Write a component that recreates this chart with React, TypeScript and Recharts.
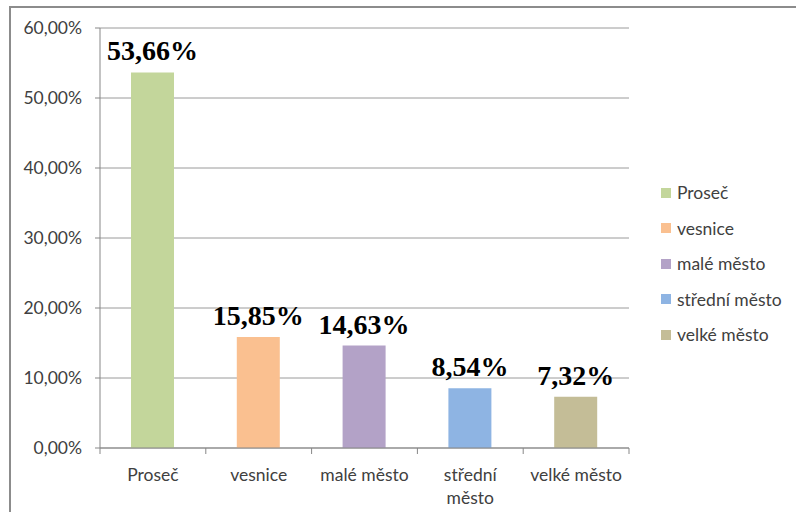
import React from 'react';
import { BarChart, Bar, XAxis, YAxis, CartesianGrid, Cell, LabelList } from 'recharts';

const categories = ['Proseč', 'vesnice', 'malé město', 'střední město', 'velké město'];
const values = [53.66, 15.85, 14.63, 8.54, 7.32];
const colors = ['#C3D69B', '#FAC090', '#B3A2C7', '#8EB4E3', '#C4BD97'];
const yTicks = [0, 10, 20, 30, 40, 50, 60];
const boundaryTicks = [0, 1, 2, 3, 4, 5];

const data = categories.map((name, i) => ({ name, value: values[i], pos: i + 0.5 }));

const fmtPct = (v: number) => v.toFixed(2).replace('.', ',') + '%';

const FONT = 'Lato, "Open Sans", sans-serif';
const TEXT_COLOR = '#404040';
const AXIS_COLOR = '#878787';
const FS = 17.5;
const MAX_CHARS = 12;

const XTick = (props: any) => {
  const { x, y, payload } = props;
  const label: string = String(payload.value);
  const lines = label.length > MAX_CHARS ? label.split(' ') : [label];
  return (
    <text x={x} y={y + 24} textAnchor="middle" fontSize={FS} fontFamily={FONT} fill={TEXT_COLOR}>
      {lines.map((l, i) => (
        <tspan key={i} x={x} dy={i === 0 ? 0 : 23}>
          {l}
        </tspan>
      ))}
    </text>
  );
};

const EmptyTick = () => <g />;

const LegendBox = () => (
  <div style={{ position: 'absolute', left: 661, top: 175, fontFamily: FONT, fontSize: FS, color: TEXT_COLOR }}>
    {categories.map((c, i) => (
      <div key={c} style={{ display: 'flex', alignItems: 'center', height: 35.5, whiteSpace: 'nowrap' }}>
        <span style={{ display: 'inline-block', width: 10, height: 10, background: colors[i], marginRight: 6 }} />
        <span>{c}</span>
      </div>
    ))}
  </div>
);

export default function App() {
  return (
    <div style={{ position: 'absolute', left: 0, top: 0, width: 796, height: 512, overflow: 'hidden', background: '#fff' }}>
      <div
        style={{
          position: 'absolute',
          left: 9,
          top: 6,
          width: 900,
          height: 600,
          borderLeft: '2px solid #8c8c8c',
          borderTop: '2px solid #8c8c8c',
        }}
      />
      <div style={{ position: 'absolute', left: 0, top: 0 }}>
        <BarChart
          width={796}
          height={512}
          data={data}
          margin={{ top: 28, right: 167, bottom: 0, left: 10 }}
          barSize={43}
        >
          <CartesianGrid vertical={false} stroke="#9a9a9a" strokeWidth={1} />
          <XAxis
            xAxisId="a"
            type="number"
            dataKey="pos"
            domain={[0, 5]}
            ticks={boundaryTicks}
            allowDataOverflow
            interval={0}
            height={1}
            tick={EmptyTick}
            tickSize={6}
            tickLine={{ stroke: AXIS_COLOR }}
            axisLine={{ stroke: AXIS_COLOR }}
          />
          <XAxis
            xAxisId="b"
            dataKey="name"
            height={63}
            tickLine={false}
            axisLine={false}
            tick={<XTick />}
            interval={0}
          />
          <YAxis
            width={90}
            domain={[0, 60]}
            ticks={yTicks}
            tickFormatter={fmtPct}
            tickSize={5}
            tickMargin={13}
            tickLine={{ stroke: AXIS_COLOR }}
            axisLine={{ stroke: AXIS_COLOR }}
            tick={{ fontSize: FS, fontFamily: FONT, fill: TEXT_COLOR }}
          />
          <Bar xAxisId="b" dataKey="value" isAnimationActive={false}>
            {data.map((d, i) => (
              <Cell key={d.name} fill={colors[i]} />
            ))}
            <LabelList
              dataKey="value"
              position="top"
              offset={12}
              formatter={(v: any) => fmtPct(Number(v))}
              style={{ fontFamily: '"Liberation Serif", "Times New Roman", serif', fontWeight: 'bold', fontSize: 28, fill: '#000' }}
            />
          </Bar>
        </BarChart>
      </div>
      <LegendBox />
    </div>
  );
}
